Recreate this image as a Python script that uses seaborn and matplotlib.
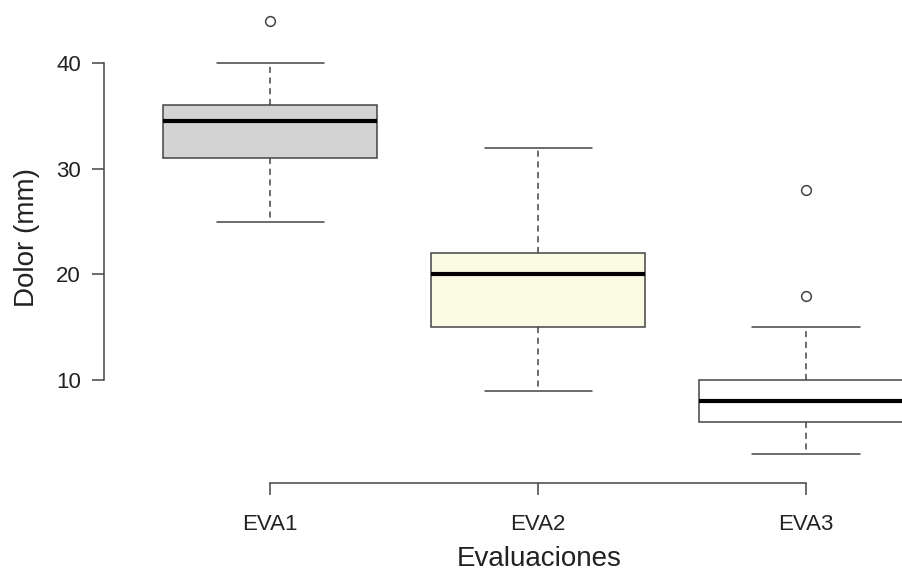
import pandas as pd
import seaborn as sns
import matplotlib.pyplot as plt

# pain scores (mm) per evaluation, chosen to reproduce the box stats in the figure
eva1 = [25, 28, 31, 33, 34.5, 35, 36, 40, 44]
eva2 = [9, 12, 15, 18, 20, 21, 22, 27, 32]
eva3 = [3, 4, 5, 6, 7, 7.5, 8, 9, 9.5, 10, 15, 18, 28]
groups = ["EVA1", "EVA2", "EVA3"]
box_colors = ["#D3D3D3", "#FFFFE0", "#FFFFFF"]

df = pd.DataFrame({
    "grupo": ["EVA1"] * len(eva1) + ["EVA2"] * len(eva2) + ["EVA3"] * len(eva3),
    "dolor": eva1 + eva2 + eva3,
})

sns.set_style("white")
plt.rcParams["font.family"] = ["Liberation Sans", "DejaVu Sans"]

fig = plt.figure(figsize=(9.02, 5.70), dpi=100)
ax = fig.add_axes([104 / 902, 87 / 570, 798 / 902, 483 / 570])

line_col = "#444444"
sns.boxplot(data=df, x="grupo", y="dolor", hue="grupo", order=groups,
            palette=box_colors, legend=False, width=0.8, whis=1.5,
            linecolor=line_col, linewidth=1.1, ax=ax,
            medianprops=dict(color="black", linewidth=3),
            whiskerprops=dict(linestyle=(0, (4, 3)), color=line_col),
            capprops=dict(color=line_col),
            flierprops=dict(marker="o", markersize=7, markerfacecolor="none",
                            markeredgecolor=line_col, markeredgewidth=1.1))

ax.set_xlim(-0.62, 2.358)
ax.set_ylim(0.26, 45.96)
ax.set_yticks([10, 20, 30, 40])

for s in ["top", "right"]:
    ax.spines[s].set_visible(False)
ax.spines["left"].set_bounds(10, 40)
ax.spines["bottom"].set_bounds(0, 2)
for s in ["left", "bottom"]:
    ax.spines[s].set_color(line_col)
    ax.spines[s].set_linewidth(1.1)

ax.tick_params(axis="both", which="major", length=8.6, width=1.1,
               color=line_col, labelsize=16, labelcolor="#222222", left=True, bottom=True)
ax.tick_params(axis="x", pad=14)
ax.tick_params(axis="y", pad=8)

ax.set_xlabel("Evaluaciones", fontsize=20, color="#222222")
ax.set_ylabel("Dolor (mm)", fontsize=20, color="#222222")
ax.xaxis.set_label_coords(0.545, -0.13)
ax.yaxis.set_label_coords(-0.08, 0.509)

fig.savefig("out.png", dpi=100)
